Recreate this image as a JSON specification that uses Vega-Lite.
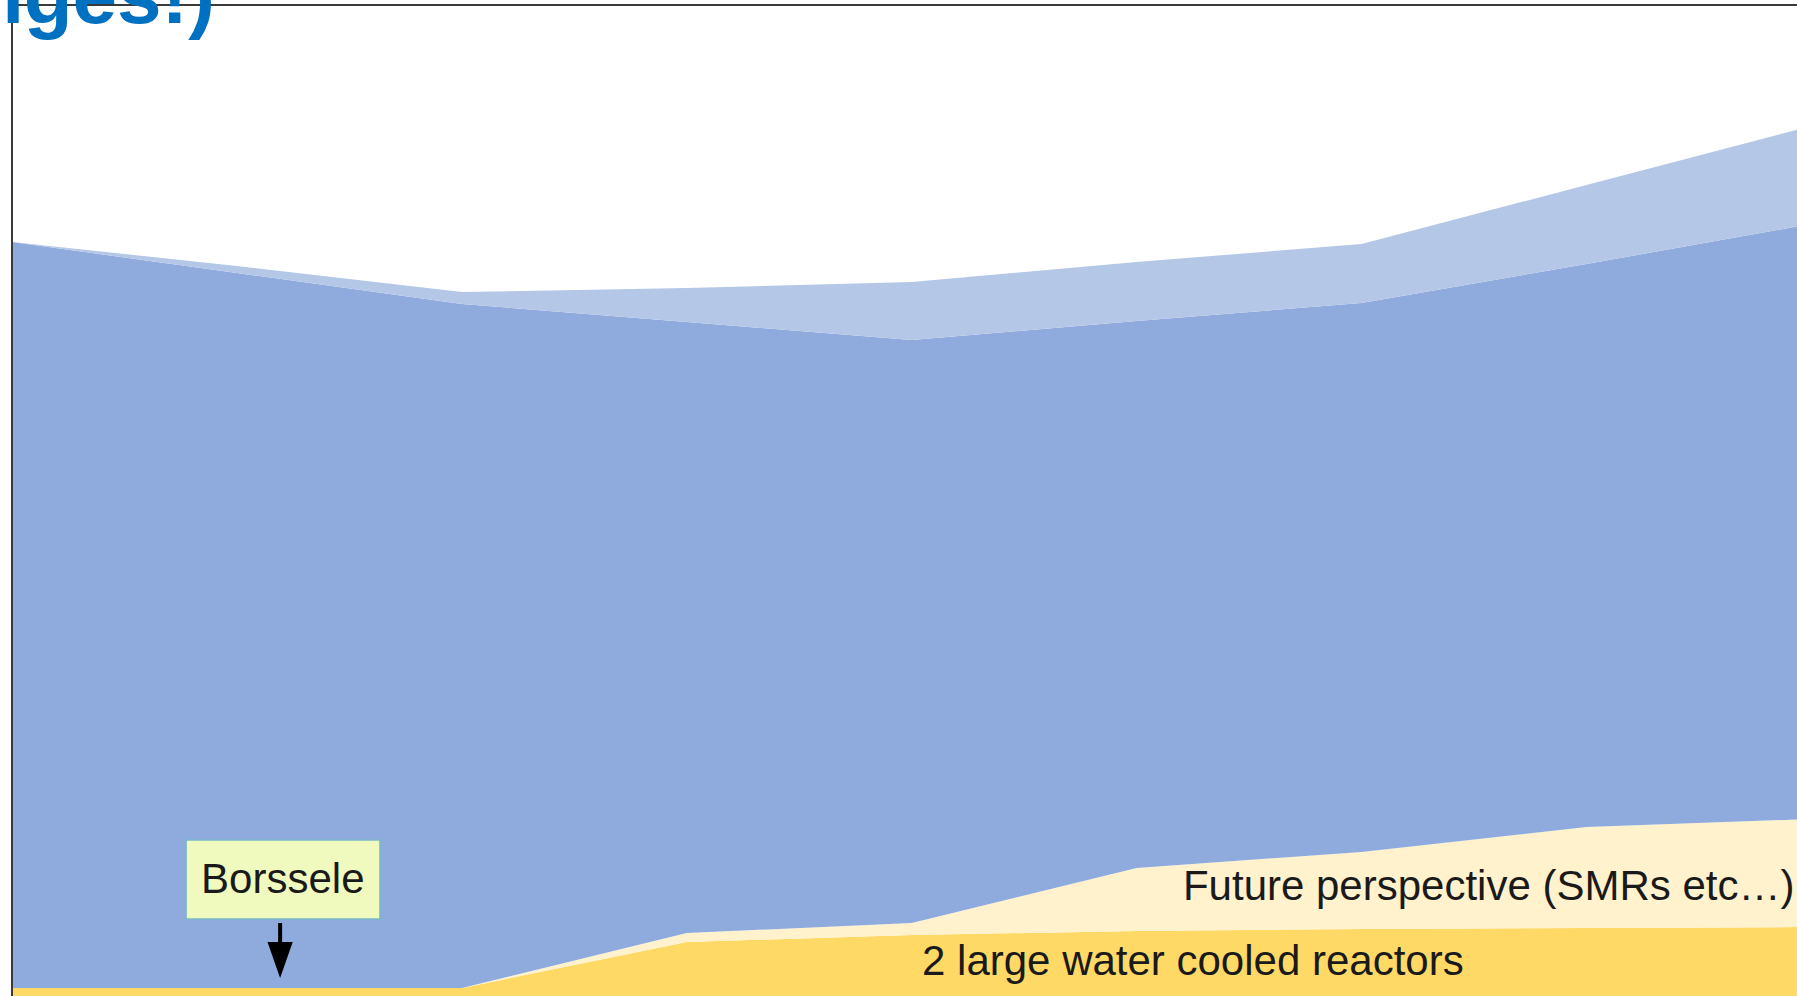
{
  "$schema": "https://vega.github.io/schema/vega-lite/v6.json",
  "width": 1785,
  "height": 991,
  "autosize": "none",
  "padding": {"left": 12, "top": 5, "right": 0, "bottom": 0},
  "background": "white",
  "config": {"view": {"stroke": null}},
  "datasets": {
    "energy": [
      {"year": 2020, "source": "2 large water cooled reactors", "rank": 1, "value": 8},
      {"year": 2025, "source": "2 large water cooled reactors", "rank": 1, "value": 8},
      {"year": 2030, "source": "2 large water cooled reactors", "rank": 1, "value": 8},
      {"year": 2035, "source": "2 large water cooled reactors", "rank": 1, "value": 54},
      {"year": 2040, "source": "2 large water cooled reactors", "rank": 1, "value": 61},
      {"year": 2045, "source": "2 large water cooled reactors", "rank": 1, "value": 65},
      {"year": 2050, "source": "2 large water cooled reactors", "rank": 1, "value": 67},
      {"year": 2055, "source": "2 large water cooled reactors", "rank": 1, "value": 68},
      {"year": 2060, "source": "2 large water cooled reactors", "rank": 1, "value": 69},
      {"year": 2020, "source": "Future perspective (SMRs etc…)", "rank": 2, "value": 0},
      {"year": 2025, "source": "Future perspective (SMRs etc…)", "rank": 2, "value": 0},
      {"year": 2030, "source": "Future perspective (SMRs etc…)", "rank": 2, "value": 0},
      {"year": 2035, "source": "Future perspective (SMRs etc…)", "rank": 2, "value": 9},
      {"year": 2040, "source": "Future perspective (SMRs etc…)", "rank": 2, "value": 12},
      {"year": 2045, "source": "Future perspective (SMRs etc…)", "rank": 2, "value": 63},
      {"year": 2050, "source": "Future perspective (SMRs etc…)", "rank": 2, "value": 77},
      {"year": 2055, "source": "Future perspective (SMRs etc…)", "rank": 2, "value": 101},
      {"year": 2060, "source": "Future perspective (SMRs etc…)", "rank": 2, "value": 108},
      {"year": 2020, "source": "Other sources", "rank": 3, "value": 746},
      {"year": 2025, "source": "Other sources", "rank": 3, "value": 715},
      {"year": 2030, "source": "Other sources", "rank": 3, "value": 684},
      {"year": 2035, "source": "Other sources", "rank": 3, "value": 611},
      {"year": 2040, "source": "Other sources", "rank": 3, "value": 583},
      {"year": 2045, "source": "Other sources", "rank": 3, "value": 547},
      {"year": 2050, "source": "Other sources", "rank": 3, "value": 549},
      {"year": 2055, "source": "Other sources", "rank": 3, "value": 563},
      {"year": 2060, "source": "Other sources", "rank": 3, "value": 595},
      {"year": 2020, "source": "Additional demand", "rank": 4, "value": 0},
      {"year": 2025, "source": "Additional demand", "rank": 4, "value": 7},
      {"year": 2030, "source": "Additional demand", "rank": 4, "value": 12},
      {"year": 2035, "source": "Additional demand", "rank": 4, "value": 34},
      {"year": 2040, "source": "Additional demand", "rank": 4, "value": 58},
      {"year": 2045, "source": "Additional demand", "rank": 4, "value": 59},
      {"year": 2050, "source": "Additional demand", "rank": 4, "value": 59},
      {"year": 2055, "source": "Additional demand", "rank": 4, "value": 79},
      {"year": 2060, "source": "Additional demand", "rank": 4, "value": 98}
    ]
  },
  "layer": [
    {
      "data": {"name": "energy"},
      "mark": {"type": "area", "clip": true, "interpolate": "linear"},
      "encoding": {
        "x": {"field": "year", "type": "quantitative", "scale": {"domain": [2020, 2059.68], "nice": false, "zero": false}, "axis": null},
        "y": {"field": "value", "type": "quantitative", "stack": "zero", "scale": {"domain": [0, 991], "nice": false, "zero": true}, "axis": null},
        "color": {
          "field": "source", "type": "nominal",
          "scale": {
            "domain": ["2 large water cooled reactors", "Future perspective (SMRs etc…)", "Other sources", "Additional demand"],
            "range": ["#FFD966", "#FFF2CC", "#8FAADC", "#B4C7E7"]
          },
          "legend": null
        },
        "order": {"field": "rank", "type": "quantitative"}
      }
    },
    {
      "data": {"values": [{}]},
      "mark": {"type": "rule", "color": "#3a3a3a", "strokeWidth": 2},
      "encoding": {"y": {"datum": 991, "type": "quantitative"}}
    },
    {
      "data": {"values": [{}]},
      "mark": {"type": "rule", "color": "#3a3a3a", "strokeWidth": 2},
      "encoding": {"x": {"datum": 2020, "type": "quantitative"}}
    },
    {
      "data": {"values": [{}]},
      "mark": {"type": "rect", "fill": "#F0FABE", "stroke": "#79B8C8", "strokeWidth": 1.5},
      "encoding": {
        "x": {"datum": 2023.87, "type": "quantitative"},
        "x2": {"datum": 2028.18},
        "y": {"datum": 156, "type": "quantitative"},
        "y2": {"datum": 77}
      }
    },
    {
      "data": {"values": [{}]},
      "mark": {"type": "text", "text": "Borssele", "font": "Liberation Sans", "fontSize": 42, "color": "#1a1a1a", "align": "center", "baseline": "middle"},
      "encoding": {
        "x": {"datum": 2026.02, "type": "quantitative"},
        "y": {"datum": 116, "type": "quantitative"}
      }
    },
    {
      "data": {"values": [{}]},
      "mark": {"type": "rule", "color": "black", "strokeWidth": 4},
      "encoding": {
        "x": {"datum": 2025.96, "type": "quantitative"},
        "y": {"datum": 73, "type": "quantitative"},
        "y2": {"datum": 50}
      }
    },
    {
      "data": {"values": [{}]},
      "mark": {"type": "point", "shape": "M-0.7,-1L0.7,-1L0,1Z", "size": 1296, "filled": true, "color": "black", "opacity": 1},
      "encoding": {
        "x": {"datum": 2025.96, "type": "quantitative"},
        "y": {"datum": 36, "type": "quantitative"}
      }
    },
    {
      "data": {"values": [{}]},
      "mark": {"type": "text", "text": "2 large water cooled reactors", "font": "Liberation Sans", "fontSize": 42, "color": "#1a1a1a", "align": "left", "baseline": "alphabetic"},
      "encoding": {
        "x": {"datum": 2040.23, "type": "quantitative"},
        "y": {"datum": 21, "type": "quantitative"}
      }
    },
    {
      "data": {"values": [{}]},
      "mark": {"type": "text", "text": "Future perspective (SMRs etc…)", "font": "Liberation Sans", "fontSize": 42, "color": "#1a1a1a", "align": "left", "baseline": "alphabetic"},
      "encoding": {
        "x": {"datum": 2046.03, "type": "quantitative"},
        "y": {"datum": 96, "type": "quantitative"}
      }
    },
    {
      "data": {"values": [{}]},
      "mark": {"type": "text", "text": "changes!)", "font": "Liberation Sans", "fontWeight": "bold", "fontSize": 80, "color": "#0070C0", "align": "right", "baseline": "alphabetic"},
      "encoding": {
        "x": {"datum": 2024.51, "type": "quantitative"},
        "y": {"datum": 973, "type": "quantitative"}
      }
    }
  ]
}
